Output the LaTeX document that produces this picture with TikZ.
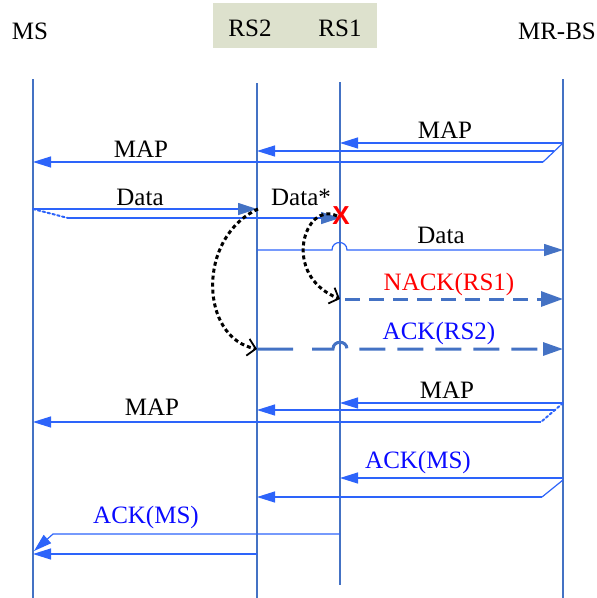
\documentclass[tikz,border=0pt]{standalone}
\usepackage{fontspec}
\setmainfont{Liberation Serif}
\newfontfamily\xfont{Liberation Sans}
\usetikzlibrary{arrows.meta}
\definecolor{lifeblue}{RGB}{68,114,196}
\definecolor{msgblue}{RGB}{45,100,250}
\definecolor{ackblue}{RGB}{10,10,255}
\definecolor{boxfill}{RGB}{221,225,205}
\begin{document}
\begin{tikzpicture}[x=1pt,y=-1pt,
 life/.style={draw=lifeblue, line width=2pt},
 msgline/.style={draw=msgblue, line width=1.2pt},
 msg/.style={msgline, -{Triangle[length=18pt,width=11pt]}},
 datamsg/.style={msgline, -{Triangle[length=19pt,width=12pt,color=lifeblue]}},
 dmsg/.style={draw=lifeblue, line width=3pt, dash pattern=on 15pt off 9pt, dash phase=-5pt, -{Triangle[length=22pt,width=15pt]}},
 dmsgb/.style={draw=lifeblue, line width=3pt, dash pattern=on 36pt off 19pt on 42pt off 13pt on 26pt off 12pt on 26pt off 12pt on 26pt off 12pt on 26pt off 12pt on 26pt off 12pt, -{Triangle[length=20pt,width=13pt]}},
 dotblue/.style={draw=msgblue, line width=2pt, dash pattern=on 2.5pt off 2.5pt, line cap=round},
 hint/.style={draw=black, line width=3pt, dash pattern=on 4pt off 3pt, -{Straight Barb[length=8pt,width=17pt,line width=1.8pt]}},
 lbl/.style={font=\fontsize{25}{30}\selectfont, inner sep=0pt, anchor=base},
]
\useasboundingbox (0,0) rectangle (597,598);

% header
\node[fill=boxfill, minimum width=164pt, minimum height=45pt, inner sep=0pt] (hdr) at (295,25.5) {};
\node[lbl] (tms) at (30,39) {MS};
\node[lbl] (trs2) at (250,36) {RS2};
\node[lbl] (trs1) at (340,36) {RS1};
\node[lbl] (tbs) at (557,39) {MR-BS};

% lifelines
\coordinate (ms) at (33,79);   \coordinate (msb) at (33,598);
\coordinate (rs2) at (257,83); \coordinate (rs2b) at (257,598);
\coordinate (rs1) at (340,82); \coordinate (rs1b) at (340,585);
\coordinate (bs) at (563,79);  \coordinate (bsb) at (563,598);
\draw[life] (ms) -- (msb);
\draw[life] (rs2) -- (rs2b);
\draw[life] (rs1) -- (rs1b);
\draw[life] (bs) -- (bsb);

% MAP (first)
\coordinate (m1a) at (563,143); \coordinate (m1b) at (543,162); \coordinate (m1c) at (554,151);
\draw[msg] (m1a) -- (rs1 |- m1a);
\draw[msgline] (m1a) -- (m1b);
\draw[msg] (m1c) -- (rs2 |- m1c);
\draw[msg] (m1b) -- (ms |- m1b);
\node[lbl] (lmap1) at (445,138) {MAP};
\node[lbl] (lmap2) at (141,157) {MAP};

% Data
\coordinate (d0) at (33,209); \coordinate (d1) at (68,218);
\draw[datamsg] (d0) -- (rs2 |- d0);
\draw[dotblue] (d0) -- (d1);
\draw[datamsg] (d1) -- (rs1 |- d1);
\node[lbl] (ldata1) at (140,205) {Data};
\node[lbl] (ldata2) at (301,205) {Data*};
\coordinate (h1a) at (332,250); \coordinate (h1b) at (347,250);
\draw[datamsg] (rs2 |- h1a) -- (h1a) .. controls (332,240) and (347,240) .. (h1b) -- (bs |- h1b);
\node[lbl] (ldata3) at (441,243) {Data};
\node[font=\xfont\bfseries\fontsize{26}{30}\selectfont, text=red, inner sep=0pt] (xx) at (341,216) {X};

% NACK / ACK(RS2)
\coordinate (n0) at (340,299);
\draw[dmsg] (n0) -- (bs |- n0);
\node[lbl, text=red] (lnack) at (449,290) {NACK(RS1)};
\coordinate (k0) at (257,349); \coordinate (h2a) at (333,349); \coordinate (h2b) at (347,349);
\draw[dmsgb] (k0) -- (h2a) .. controls (333,340) and (347,340) .. (h2b) -- (bs |- h2b);
\node[lbl, text=ackblue] (lack2) at (439,339) {ACK(RS2)};

% hint curves
\coordinate (c1s) at (258,209);
\coordinate (c2s) at (337,216);
\draw[hint] (c1s) .. controls (196,238) and (200,338) .. (k0);
\draw[hint] (c2s) .. controls (305,200) and (280,275) .. (n0);

% MAP (second)
\coordinate (m2a) at (563,403); \coordinate (m2b) at (541,422); \coordinate (m2c) at (556,410);
\draw[msg] (m2a) -- (rs1 |- m2a);
\draw[dotblue] (m2a) -- (m2b);
\draw[msg] (m2c) -- (rs2 |- m2c);
\draw[msg] (m2b) -- (ms |- m2b);
\node[lbl] (lmap3) at (447,398) {MAP};
\node[lbl] (lmap4) at (152,415) {MAP};

% ACK(MS)
\coordinate (a1) at (563,478); \coordinate (a1s) at (563,480); \coordinate (a2) at (542,497);
\draw[msg] (a1) -- (rs1 |- a1);
\draw[msgline] (a1s) -- (a2);
\draw[msg] (a2) -- (rs2 |- a2);
\node[lbl, text=ackblue] (lack3) at (418,468) {ACK(MS)};
\coordinate (a3) at (53,534); \coordinate (a4) at (34,551);
\draw[msg] (rs1 |- a3) -- (a3) -- (a4);
\coordinate (a5) at (257,554);
\draw[msg] (a5) -- (ms |- a5);
\node[lbl, text=ackblue] (lack4) at (146,523) {ACK(MS)};
\end{tikzpicture}
\end{document}
